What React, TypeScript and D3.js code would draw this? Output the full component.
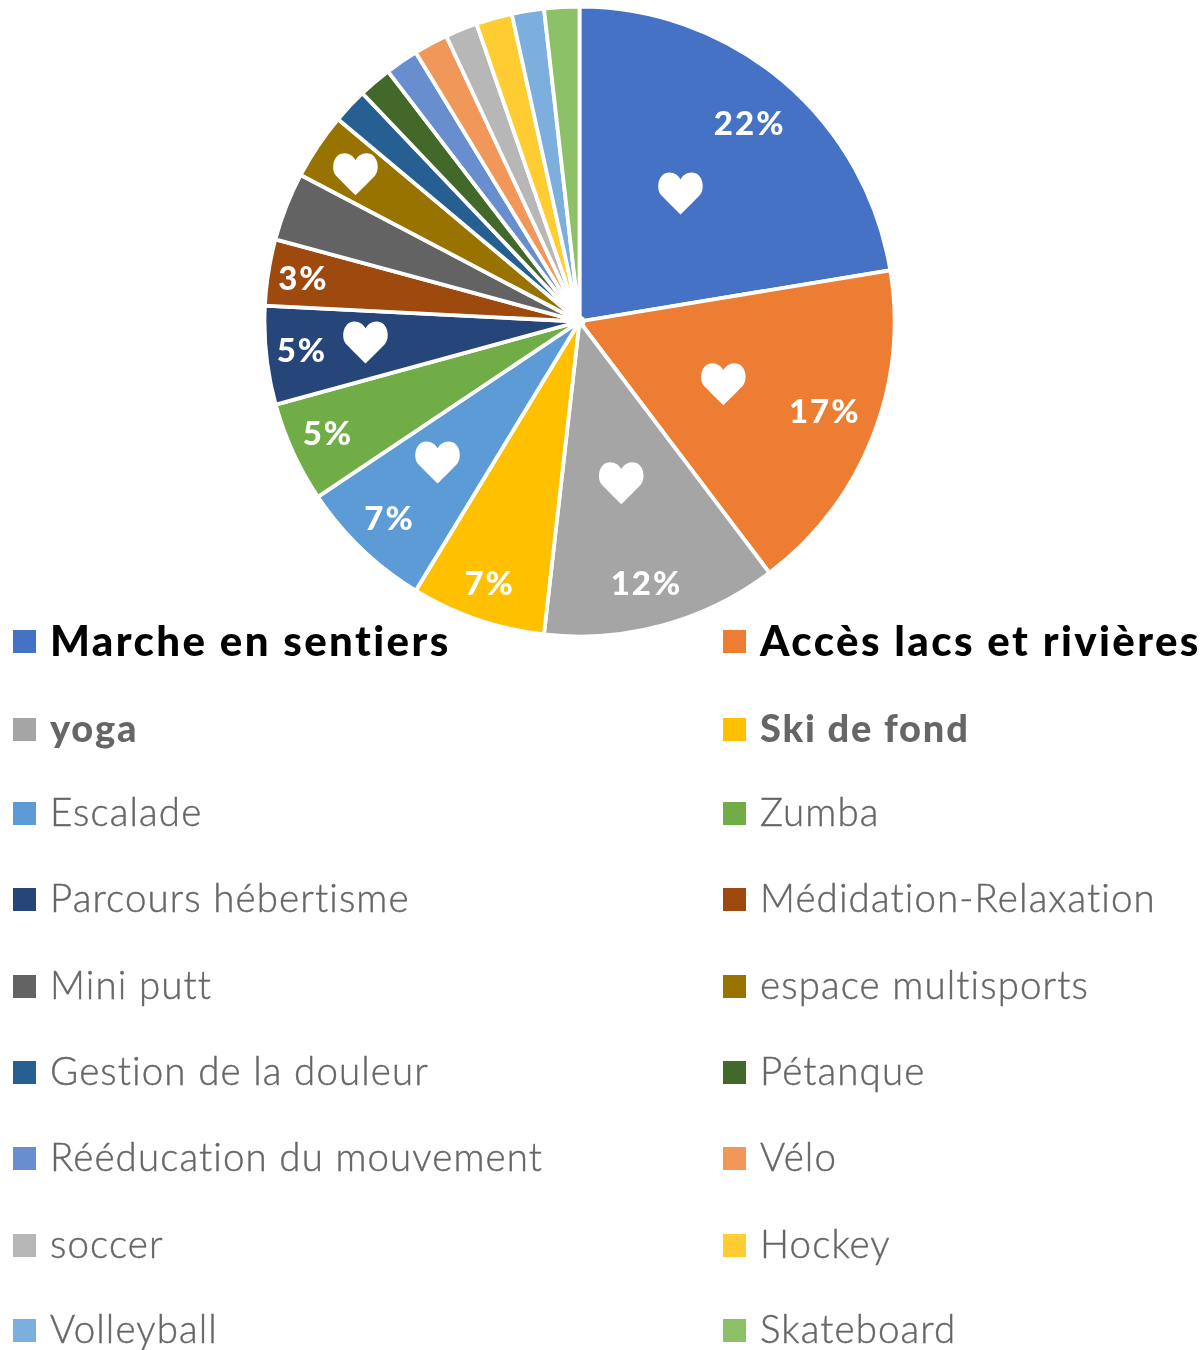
import React from "react";
import * as d3 from "d3";

const categories = ["Marche en sentiers","Accès lacs et rivières","yoga","Ski de fond","Escalade","Zumba","Parcours hébertisme","Médidation-Relaxation","Mini putt","espace multisports","Gestion de la douleur","Pétanque","Rééducation du mouvement","Vélo","soccer","Hockey","Volleyball","Skateboard"];
const values = [22.4,17.3,12.1,6.9,6.9,5.15,5.05,3.4,3.5,3.4,1.8,1.7,1.7,1.75,1.65,1.85,1.65,1.8];
const colors = ["#4472C4","#ED7D31","#A5A5A5","#FFC000","#5B9BD5","#70AD47","#264478","#9E480E","#636363","#997300","#255E91","#43682B","#698ED0","#F1975A","#B7B7B7","#FFCD33","#7CAFDD","#8CC168"];
const percentLabels = ["22%","17%","12%","7%","7%","5%","5%","3%"];
const labelAngles = [40.5,110,165.6,199,224.1,246.2,264.2,279];
const labelRadii = [262,261,269.5,276,273,275,279,279.5];
const heartAngles = [38.3,113.6,165.5,225.2,264.4,303.3];
const heartRadii = [163,157,167,200,215,268];
const boldLevels = [2,2,1,1];
const legendRowY = [641,729,813,899,986,1072,1158,1245,1330];

const cx = 579.5, cy = 321.5, R = 315;
const heartPath = "M0,21 C-6,15 -14,7 -19,2 C-25,-4 -23,-21 -11,-21 C-6,-21 -2,-18 0,-14 C2,-18 6,-21 11,-21 C23,-21 25,-4 19,2 C14,7 6,15 0,21 Z";
const legendStyle: Record<number, any> = {
  2: { fontWeight: 900, fontSize: 42, letterSpacing: 2.4, fill: "#000", stroke: 0 },
  1: { fontWeight: 900, fontSize: 38, letterSpacing: 1.8, fill: "#666", stroke: 0 },
  0: { fontWeight: 300, fontSize: 38.5, letterSpacing: 1.1, fill: "#666", stroke: 0.4 },
};

export default function App() {
  const arcs = d3.pie<number>().sort(null).startAngle(0).endAngle(2 * Math.PI)(values);
  const arc = d3.arc<d3.PieArcDatum<number>>().innerRadius(0).outerRadius(R);
  const polar = (deg: number, r: number) => d3.pointRadial((deg * Math.PI) / 180, r);
  const font = "Lato, 'Noto Sans', sans-serif";
  return (
    <svg width={1202} height={1350} style={{ position: "absolute", left: 0, top: 0, display: "block", background: "#fff" }}>
      <defs>
        <filter id="soft" x="-5%" y="-5%" width="110%" height="110%">
          <feGaussianBlur stdDeviation="0.7" />
        </filter>
      </defs>
      <g filter="url(#soft)">
        <g transform={`translate(${cx},${cy})`}>
          {arcs.map((a, i) => (
            <path key={i} d={arc(a) || ""} fill={colors[i]} stroke="#fff" strokeWidth={3.8} />
          ))}
          <circle r={6} fill="#fff" />
          {percentLabels.map((t, i) => {
            const [x, y] = polar(labelAngles[i], labelRadii[i]);
            return (
              <text key={t + i} x={x} y={y + 1} dy="0.35em" textAnchor="middle" fill="#fff" fontFamily={font} fontWeight={900} fontSize={33} letterSpacing={2}>
                {t}
              </text>
            );
          })}
          {heartAngles.map((h, i) => {
            const [x, y] = polar(h, heartRadii[i]);
            return <path key={i} d={heartPath} transform={`translate(${x},${y})`} fill="#fff" />;
          })}
        </g>
        {categories.map((c, i) => {
          const col = i % 2;
          const y = legendRowY[Math.floor(i / 2)];
          const swatchX = col ? 723 : 13;
          const textX = col ? 760 : 50;
          const s = legendStyle[boldLevels[i] || 0];
          return (
            <g key={c}>
              <rect x={swatchX} y={y - 11} width={23} height={23} fill={colors[i]} />
              <text x={textX} y={y} dy="0.35em" fontFamily={font} fontSize={s.fontSize}
                fontWeight={s.fontWeight} letterSpacing={s.letterSpacing} fill={s.fill}
                stroke={s.fill} strokeWidth={s.stroke}
                style={{ fontVariantLigatures: "none" }}>
                {c}
              </text>
            </g>
          );
        })}
      </g>
    </svg>
  );
}
